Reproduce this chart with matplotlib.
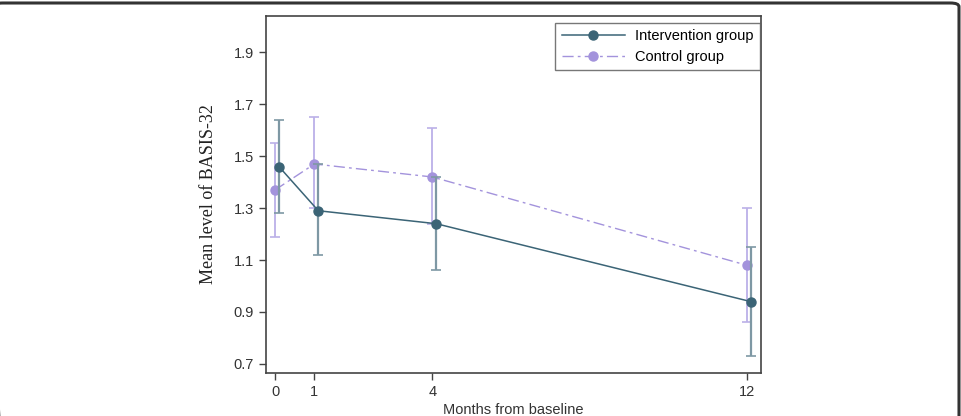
import matplotlib
matplotlib.use("Agg")
import matplotlib.pyplot as plt
from matplotlib.patches import FancyBboxPatch

months = [0, 1, 4, 12]
int_x = [0.1, 1.1, 4.1, 12.1]
ctl_x = [0.0, 1.0, 4.0, 12.0]
int_mean = [1.46, 1.29, 1.24, 0.94]
int_lo = [1.28, 1.12, 1.06, 0.73]
int_hi = [1.64, 1.47, 1.42, 1.15]
ctl_mean = [1.37, 1.47, 1.42, 1.08]
ctl_lo = [1.19, 1.30, 1.24, 0.86]
ctl_hi = [1.55, 1.65, 1.61, 1.30]
yticks = [0.7, 0.9, 1.1, 1.3, 1.5, 1.7, 1.9]

W, H = 961, 416
fig = plt.figure(figsize=(W / 100, H / 100), dpi=100)
ax = fig.add_axes([266 / W, 1 - 373 / H, (761 - 266) / W, (373 - 16) / H])

int_col = "#3b6476"
int_err = "#7e98a4"
ctl_col = "#a393dc"
ctl_err = "#bbb0e8"

# control
ax.errorbar(ctl_x, ctl_mean,
            yerr=[[m - l for m, l in zip(ctl_mean, ctl_lo)], [h - m for m, h in zip(ctl_mean, ctl_hi)]],
            fmt="none", ecolor=ctl_err, elinewidth=1.3, capsize=3.5, capthick=1.2, zorder=2)
ax.plot(ctl_x, ctl_mean, color=ctl_col, lw=1.0, dashes=[8, 3, 2, 3],
        marker="o", markersize=6.5, markerfacecolor=ctl_col, markeredgecolor=ctl_col,
        label="Control group", zorder=3)
# intervention
ax.errorbar(int_x, int_mean,
            yerr=[[m - l for m, l in zip(int_mean, int_lo)], [h - m for m, h in zip(int_mean, int_hi)]],
            fmt="none", ecolor=int_err, elinewidth=1.6, capsize=3.5, capthick=1.2, zorder=4)
ax.plot(int_x, int_mean, color=int_col, lw=1.1, ls="-",
        marker="o", markersize=6.5, markerfacecolor=int_col, markeredgecolor=int_col,
        label="Intervention group", zorder=5)

ax.set_xlim(-0.23, 12.36)
ax.set_ylim(0.665, 2.04)
ax.set_xticks(months)
ax.set_xticklabels([str(m) for m in months])
ax.set_yticks(yticks)
ax.set_yticklabels([f"{v:.1f}" for v in yticks])

for s in ["top", "right", "left", "bottom"]:
    ax.spines[s].set_color("#444444")
    ax.spines[s].set_linewidth(1.2)
ax.tick_params(axis="both", colors="#444444", labelcolor="#333333",
               labelsize=10.5, length=5, width=1)
for lab in ax.get_xticklabels() + ax.get_yticklabels():
    lab.set_family("Liberation Sans")

ax.set_xlabel("Months from baseline", family="Liberation Sans", fontsize=10.5,
              color="#333333", labelpad=0)
ax.xaxis.set_label_coords(0.5, -0.085)
ax.set_ylabel("Mean level of BASIS-32", family="Liberation Serif", fontsize=13,
              color="#222222", labelpad=12)

handles, labels = ax.get_legend_handles_labels()
leg = ax.legend(handles[::-1], labels[::-1], loc="upper right",
                bbox_to_anchor=(0.998, 0.981), borderaxespad=0.0,
                frameon=True, fancybox=False,
                edgecolor="#555555", handlelength=4.3, handletextpad=0.7,
                borderpad=0.45, labelspacing=0.45,
                prop={"family": "Liberation Sans", "size": 10.5})
leg.get_frame().set_linewidth(1.0)

# outer rounded frame (partly cropped)
frame = FancyBboxPatch((-6 / W, -30 / H), (959 + 6) / W, (416 - 3 + 30) / H,
                       boxstyle="round,pad=0,rounding_size=0.009",
                       transform=fig.transFigure, fill=False,
                       edgecolor="#333333", linewidth=2.2)
fig.patches.append(frame)

fig.savefig("out.png", dpi=100)
